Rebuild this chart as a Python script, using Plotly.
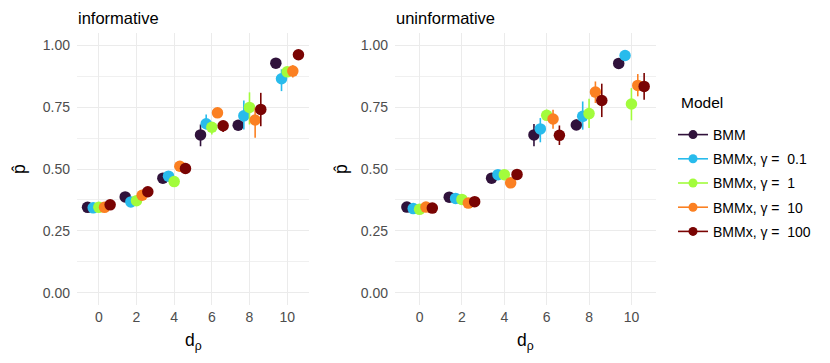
import plotly.graph_objects as go

# --- data ------------------------------------------------------------------
d_rho = [0, 2, 4, 6, 8, 10]
models = ["BMM", "BMMx, γ =\u00a0\u00a00.1", "BMMx, γ =\u00a0\u00a01",
          "BMMx, γ =\u00a0\u00a010", "BMMx, γ =\u00a0\u00a0100"]
colors = ["#30123B", "#28BBEC", "#A2FC3C", "#FB8022", "#7A0403"]
dodge = [-0.6, -0.3, 0.0, 0.3, 0.6]

inf_p = [
    [0.345, 0.387, 0.463, 0.638, 0.677, 0.928],
    [0.343, 0.367, 0.471, 0.683, 0.715, 0.865],
    [0.345, 0.372, 0.449, 0.669, 0.749, 0.893],
    [0.345, 0.394, 0.511, 0.727, 0.698, 0.896],
    [0.355, 0.408, 0.502, 0.675, 0.741, 0.962],
]
inf_lo = [
    [0.335, 0.377, 0.452, 0.592, 0.660, 0.915],
    [0.333, 0.357, 0.460, 0.660, 0.660, 0.815],
    [0.335, 0.362, 0.438, 0.640, 0.680, 0.875],
    [0.335, 0.384, 0.500, 0.712, 0.626, 0.870],
    [0.345, 0.398, 0.491, 0.650, 0.673, 0.950],
]
inf_hi = [
    [0.355, 0.397, 0.474, 0.680, 0.690, 0.940],
    [0.353, 0.377, 0.482, 0.720, 0.777, 0.903],
    [0.355, 0.382, 0.460, 0.690, 0.810, 0.910],
    [0.355, 0.404, 0.522, 0.742, 0.748, 0.920],
    [0.365, 0.418, 0.513, 0.690, 0.808, 0.974],
]

uninf_p = [
    [0.346, 0.386, 0.463, 0.638, 0.678, 0.927],
    [0.340, 0.381, 0.477, 0.662, 0.713, 0.959],
    [0.337, 0.377, 0.477, 0.717, 0.724, 0.763],
    [0.346, 0.362, 0.444, 0.702, 0.811, 0.838],
    [0.342, 0.368, 0.478, 0.636, 0.777, 0.834],
]
uninf_lo = [
    [0.336, 0.376, 0.452, 0.592, 0.660, 0.915],
    [0.330, 0.371, 0.466, 0.608, 0.659, 0.945],
    [0.327, 0.367, 0.466, 0.700, 0.666, 0.697],
    [0.336, 0.352, 0.433, 0.663, 0.767, 0.794],
    [0.332, 0.358, 0.467, 0.597, 0.710, 0.780],
]
uninf_hi = [
    [0.356, 0.396, 0.474, 0.682, 0.700, 0.940],
    [0.350, 0.391, 0.488, 0.706, 0.773, 0.972],
    [0.347, 0.387, 0.488, 0.740, 0.784, 0.827],
    [0.356, 0.372, 0.455, 0.740, 0.854, 0.884],
    [0.352, 0.378, 0.489, 0.676, 0.845, 0.888],
]

y_ticks = [0, 0.25, 0.5, 0.75, 1.0]
y_ticktext = ["0.00", "0.25", "0.50", "0.75", "1.00"]

FONT = "Liberation Sans, Arial, sans-serif"
# page body has an 8px margin, so the figure is a bit smaller than the window
OFF = 8
W, H = 830 - OFF, 363 - OFF


def fx(px):
    return (px - OFF) / W


def fy(py):
    return 1 - (py - OFF) / H


fig = go.Figure()


def add_panel(p, lo, hi, xa, ya):
    for i, name in enumerate(models):
        fig.add_trace(go.Scatter(
            x=[d + dodge[i] for d in d_rho], y=p[i], mode="markers",
            xaxis=xa, yaxis=ya, showlegend=False, name=name,
            marker=dict(color=colors[i], size=11.5, line=dict(width=0)),
            error_y=dict(type="data", symmetric=False,
                         array=[h - v for h, v in zip(hi[i], p[i])],
                         arrayminus=[v - l for l, v in zip(lo[i], p[i])],
                         color=colors[i], thickness=1.6, width=0),
        ))


add_panel(inf_p, inf_lo, inf_hi, "x", "y")
add_panel(uninf_p, uninf_lo, uninf_hi, "x2", "y2")

# legend-only entries (pointrange glyph)
for i, name in enumerate(models):
    fig.add_trace(go.Scatter(
        x=[None], y=[None], mode="lines+markers", name=name, legendgroup=str(i),
        marker=dict(color=colors[i], size=9), line=dict(color=colors[i], width=1.6),
    ))

# --- layout ----------------------------------------------------------------
panel_x = [(77, 309), (395, 656)]
top, bottom = 33, 305
ydom = [fy(bottom), fy(top)]

tickfont = dict(size=14, color="#4D4D4D")
xcommon = dict(range=[-1.16, 11.16], tickvals=d_rho, showgrid=True,
               gridcolor="#EBEBEB", gridwidth=1.1, zeroline=False,
               showline=False, ticks="", tickfont=tickfont, ticklabelstandoff=2)
ycommon = dict(range=[-0.05, 1.05], tickvals=y_ticks, ticktext=y_ticktext,
               showgrid=True, gridcolor="#EBEBEB", gridwidth=1.1, zeroline=False,
               showline=False, ticks="", tickfont=tickfont, ticklabelstandoff=6,
               minor=dict(showgrid=True, dtick=0.125, tick0=0.125,
                          gridcolor="#F0F0F0", gridwidth=0.7))

fig.update_layout(
    width=W, height=H, margin=dict(l=0, r=0, t=0, b=0),
    paper_bgcolor="white", plot_bgcolor="white",
    font=dict(family=FONT, color="black"),
    xaxis=dict(domain=[fx(panel_x[0][0]), fx(panel_x[0][1])], anchor="y", **xcommon),
    yaxis=dict(domain=ydom, anchor="x", **ycommon),
    xaxis2=dict(domain=[fx(panel_x[1][0]), fx(panel_x[1][1])], anchor="y2", **xcommon),
    yaxis2=dict(domain=ydom, anchor="x2", **ycommon),
    legend=dict(x=fx(673), y=fy(119), xanchor="left", yanchor="top",
                font=dict(size=14), itemwidth=30, tracegroupgap=3,
                bgcolor="rgba(0,0,0,0)"),
)

fig.add_annotation(x=fx(679), y=fy(103), xref="paper", yref="paper",
                   text="Model", showarrow=False, xanchor="left",
                   yanchor="middle", font=dict(size=15.5))

for (x0, x1), title in zip(panel_x, ["informative", "uninformative"]):
    fig.add_annotation(x=fx(x0), y=fy(18.5), xref="paper", yref="paper",
                       text=title, showarrow=False, xanchor="left",
                       yanchor="middle", borderpad=0, font=dict(size=16.5))
    fig.add_annotation(x=fx((x0 + x1) / 2), y=fy(341), xref="paper",
                       yref="paper", text="d<sub>ρ</sub>", showarrow=False,
                       xanchor="center", yanchor="middle", font=dict(size=17.5))

for xp in [19, 341]:
    fig.add_annotation(x=fx(xp), y=fy(169), xref="paper", yref="paper",
                       text="p\u0302", showarrow=False, textangle=-90,
                       xanchor="center", yanchor="middle", font=dict(size=17.5))

fig.write_html("out.html")
